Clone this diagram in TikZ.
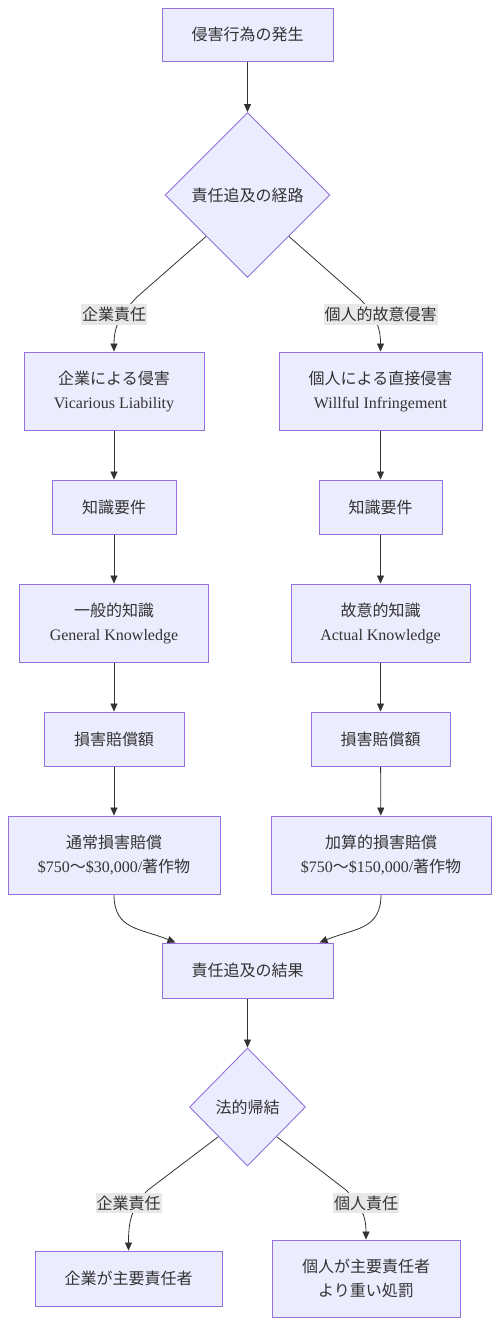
\documentclass[tikz,border=0pt]{standalone}
\usepackage{fontspec}
\setmainfont{Liberation Serif}
\newfontfamily\jp{Noto Sans CJK JP}
\usetikzlibrary{shapes.geometric,arrows.meta}
\definecolor{nodefill}{HTML}{ECECFF}
\definecolor{nodeline}{HTML}{9370DB}
\definecolor{edgecol}{HTML}{333333}
\definecolor{lblfill}{HTML}{E8E8E8}
\pgfdeclarelayer{bg}
\pgfsetlayers{bg,main}
\tikzset{
  box/.style={draw=nodeline, fill=nodefill, line width=0.9pt, align=center, inner sep=0pt, text=edgecol,
    font=\jp\fontsize{16}{24}\selectfont},
  dia/.style={shape=diamond, draw=nodeline, fill=nodefill, line width=0.9pt, inner sep=0pt, text=edgecol,
    font=\jp\fontsize{16}{24}\selectfont},
  lbl/.style={fill=lblfill, inner xsep=1pt, inner ysep=3pt, text=edgecol, font=\jp\fontsize{16}{20}\selectfont},
  arr/.style={draw=edgecol, line width=0.8pt, -{Triangle[length=8pt,width=7pt]}},
}
\begin{document}
\begin{tikzpicture}[x=1pt,y=-1pt]
\useasboundingbox (0,0) rectangle (499,1326);
% nodes
\node[box, minimum width=171pt, minimum height=53pt] (a) at (247.5,34.5) {侵害行為の発生};
\node[dia, minimum width=165pt, minimum height=165pt] (d1) at (247.5,195) {責任追及の経路};
\node[box, minimum width=180pt, minimum height=78pt] (v1) at (114,391) {企業による侵害\\{\rmfamily Vicarious Liability}};
\node[box, minimum width=203pt, minimum height=78pt] (w1) at (380.5,391) {個人による直接侵害\\{\rmfamily Willful Infringement}};
\node[box, minimum width=124pt, minimum height=54pt] (k1) at (114,507) {知識要件};
\node[box, minimum width=123pt, minimum height=54pt] (k2) at (380.5,507) {知識要件};
\node[box, minimum width=189pt, minimum height=78pt] (g1) at (114,623) {一般的知識\\{\rmfamily General Knowledge}};
\node[box, minimum width=179pt, minimum height=78pt] (g2) at (380.5,623) {故意的知識\\{\rmfamily Actual Knowledge}};
\node[box, minimum width=140pt, minimum height=54pt] (s1) at (114,739) {損害賠償額};
\node[box, minimum width=139pt, minimum height=54pt] (s2) at (380.5,739) {損害賠償額};
\node[box, minimum width=212pt, minimum height=78pt] (t1) at (114,855) {通常損害賠償\\{\rmfamily \$750}～{\rmfamily \$30,000/}著作物};
\node[box, minimum width=220pt, minimum height=78pt] (t2) at (381,855) {加算的損害賠償\\{\rmfamily \$750}～{\rmfamily \$150,000/}著作物};
\node[box, minimum width=171pt, minimum height=55pt] (res) at (247.5,970.5) {責任追及の結果};
\node[dia, minimum width=116pt, minimum height=118pt] (d2) at (247.5,1107) {法的帰結};
\node[box, minimum width=187pt, minimum height=55pt] (e1) at (128.5,1278.5) {企業が主要責任者};
\node[box, minimum width=188pt, minimum height=77pt] (e2) at (366,1278.5) {個人が主要責任者\\より重い処罰};
% edge labels
\node[lbl] (l1) at (114,314.5) {企業責任};
\node[lbl] (l2) at (380.5,314.5) {個人的故意侵害};
\node[lbl] (l3) at (128.5,1203) {企業責任};
\node[lbl] (l4) at (366,1203) {個人責任};
% edges
\coordinate (c1) at (137,297);
\coordinate (c2) at (360,299);
\coordinate (c3) at (148,1190);
\coordinate (c4) at (346,1190);
\coordinate (rl) at ([xshift=-72pt]res.north);
\coordinate (rr) at ([xshift=72pt]res.north);
\begin{pgfonlayer}{bg}
\draw[arr] (a) -- (d1);
\draw[arr] (d1.south west) -- (c1) .. controls (117,318) and (114,330) .. (v1.north);
\draw[arr] (d1.south east) -- (c2) .. controls (378,318) and (380.5,330) .. (w1.north);
\draw[arr] (v1) -- (k1);
\draw[arr] (w1) -- (k2);
\draw[arr] (k1) -- (g1);
\draw[arr] (k2) -- (g2);
\draw[arr] (g1) -- (s1);
\draw[arr] (g2) -- (s2);
\draw[arr] (s1) -- (t1);
\draw[arr] (s2) -- (t2);
\draw[arr] (t1.south) .. controls (114,930) and (140,928) .. (rl);
\draw[arr] (t2.south) .. controls (381,930) and (355,928) .. (rr);
\draw[arr] (res) -- (d2);
\draw[arr] (d2.south west) -- (c3) .. controls (130,1208) and (128.5,1225) .. (e1.north);
\draw[arr] (d2.south east) -- (c4) .. controls (364,1208) and (366,1220) .. (e2.north);
\end{pgfonlayer}
\end{tikzpicture}
\end{document}
